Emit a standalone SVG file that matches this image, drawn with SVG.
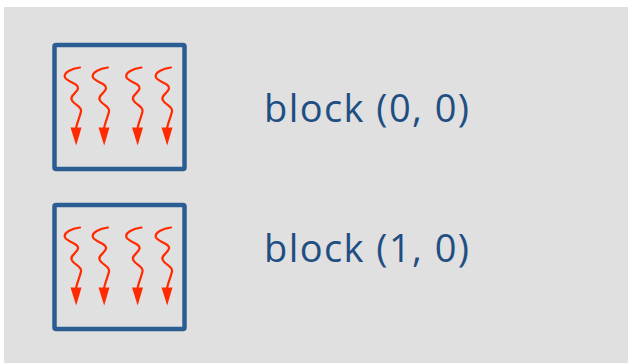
<svg xmlns="http://www.w3.org/2000/svg" width="628" height="363" viewBox="0 0 628 363">
  <style>
    .frame { fill: none; stroke: #2b5d93; stroke-width: 4.5; stroke-linejoin: round; }
    .thread { fill: none; stroke: #ff2a00; stroke-width: 2.2; stroke-linecap: round; }
    .head { fill: #ff2a00; }
    .label { font-family: "Open Sans", "Noto Sans", "Liberation Sans", sans-serif; font-size: 38px; fill: #1f4e82; }
  </style>
  <defs>
    <!-- one wavy thread with its arrowhead, drawn from its top-right start point -->
    <g id="warp">
      <path class="thread" d="M0,0 C-8,1 -17,5 -15,10 C-12,15 -1,16 -2,21 C-3,26 -11,28 -8,33 C-5,38 2,39 1,44 C0,49 -3,55 -4,61"/>
      <polygon class="head" points="-9.5,60 1.5,60 -3.8,78"/>
    </g>
    <!-- a block holding four threads -->
    <g id="blk">
      <rect class="frame" x="0" y="0" width="130" height="124" rx="1.5"/>
      <use href="#warp" x="25.5" y="22.5"/>
      <use href="#warp" x="53.5" y="22.5"/>
      <use href="#warp" x="87" y="22.5"/>
      <use href="#warp" x="116.5" y="22.5"/>
    </g>
  </defs>

  <rect x="4" y="7" width="624" height="356" fill="#e0e0e0"/>

  <g id="block00">
    <use href="#blk" x="54.5" y="45"/>
    <text class="label" x="264" y="122" textLength="205" lengthAdjust="spacing">block (0, 0)</text>
  </g>

  <g id="block10">
    <use href="#blk" x="54.5" y="205"/>
    <text class="label" x="264" y="262" textLength="205" lengthAdjust="spacing">block (1, 0)</text>
  </g>
</svg>
